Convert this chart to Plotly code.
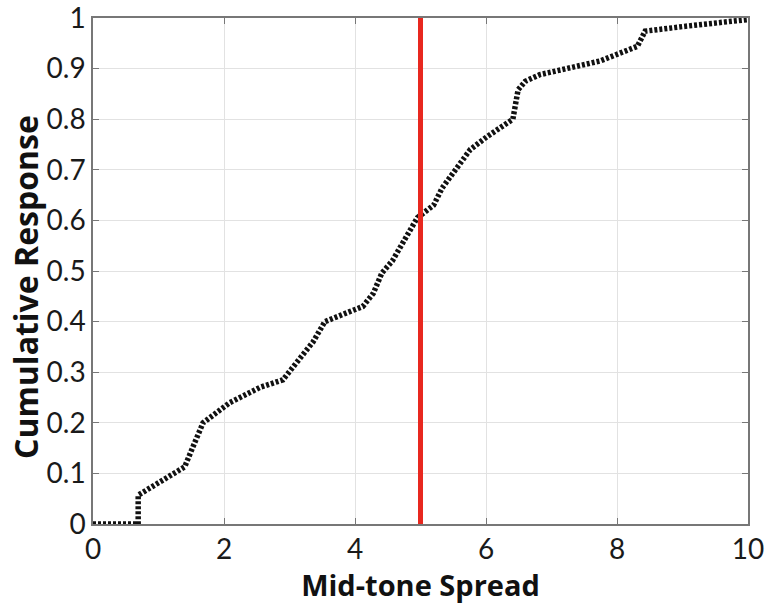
import plotly.graph_objects as go

spread = [0, 0.69, 0.69, 1.0, 1.40, 1.55, 1.68, 2.09, 2.55, 2.90, 3.05, 3.36, 3.54, 3.87, 4.12,
          4.28, 4.41, 4.57, 4.95, 5.10, 5.20, 5.33, 5.76, 6.01, 6.41, 6.49, 6.60, 6.82, 7.74,
          8.31, 8.43, 9.0, 10.0]
response = [0, 0, 0.057, 0.082, 0.113, 0.16, 0.20, 0.24, 0.27, 0.285, 0.31, 0.36, 0.40, 0.417,
            0.43, 0.456, 0.496, 0.52, 0.605, 0.62, 0.63, 0.664, 0.74, 0.765, 0.80, 0.858, 0.875,
            0.888, 0.915, 0.944, 0.974, 0.983, 0.997]
threshold_x = [5, 5]
threshold_y = [0, 1]
x_ticks = [0, 2, 4, 6, 8, 10]
x_ticktext = ["0", "2", "4", "6", "8", "10"]
y_ticks = [0, 0.1, 0.2, 0.3, 0.4, 0.5, 0.6, 0.7, 0.8, 0.9, 1]
y_ticktext = ["0", "0.1", "0.2", "0.3", "0.4", "0.5", "0.6", "0.7", "0.8", "0.9", "1"]

fig = go.Figure()
fig.add_trace(go.Scatter(x=spread, y=response, mode="lines",
                         line=dict(color="#111111", width=5.5, dash="3px,2px"),
                         showlegend=False, hoverinfo="skip"))
fig.add_trace(go.Scatter(x=threshold_x, y=threshold_y, mode="lines",
                         line=dict(color="#e8281f", width=5),
                         showlegend=False, hoverinfo="skip"))

axis_common = dict(showgrid=True, gridcolor="#e2e2e2", gridwidth=1, automargin=False,
                   showline=True, linecolor="#777777", linewidth=1.5, mirror="ticks",
                   ticks="inside", ticklen=6, tickcolor="#777777", tickwidth=1.2,
                   zeroline=False, tickfont=dict(family="Lato", size=28, color="#1a1a1a"))

fig.update_xaxes(range=[0, 10], tickmode="array", tickvals=x_ticks, ticktext=x_ticktext,
                 title=dict(text="<b>Mid-tone Spread</b>",
                            font=dict(family="Open Sans", size=29, color="#111111"),
                            standoff=4),
                 **axis_common)
fig.update_yaxes(range=[0, 1], tickmode="array", tickvals=y_ticks, ticktext=y_ticktext,
                 ticklabeloverflow="allow",
                 **axis_common)

fig.add_annotation(text="<b>Cumulative Response</b>", textangle=-90,
                   xref="paper", yref="paper", x=(25 - 93) / 655, y=(524 - 287) / 506,
                   xanchor="center", yanchor="middle", showarrow=False,
                   font=dict(family="Open Sans", size=32, color="#111111"))

fig.update_layout(width=767, height=605, margin=dict(l=93, r=19, t=18, b=81),
                  plot_bgcolor="white", paper_bgcolor="white")

fig.write_html("out.html")
